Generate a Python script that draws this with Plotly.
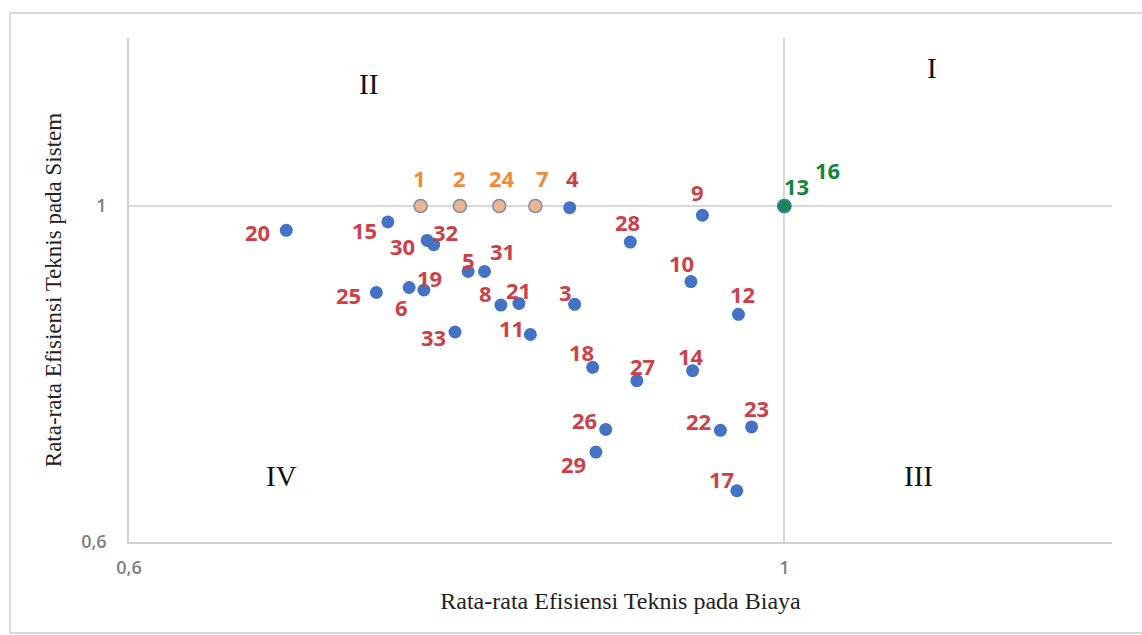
import plotly.graph_objects as go

# DMU efficiency scores: x = average technical efficiency on cost,
# y = average technical efficiency on the system
dmu_ids = ["1", "2", "24", "7", "4", "9", "13", "16", "15", "30", "32", "28",
           "5", "31", "10", "19", "6", "8", "21", "3", "12", "33", "11", "25",
           "20", "18", "27", "14", "26", "22", "23", "29", "17"]
eff_cost = [0.778, 0.802, 0.826, 0.848, 0.869, 0.950, 1.000, 1.000, 0.758,
            0.782, 0.786, 0.906, 0.807, 0.817, 0.943, 0.780, 0.771, 0.827,
            0.838, 0.872, 0.972, 0.799, 0.845, 0.751, 0.696, 0.883, 0.910,
            0.944, 0.891, 0.961, 0.980, 0.885, 0.971]
eff_system = [1.000, 1.000, 1.000, 1.000, 0.998, 0.989, 1.000, 1.000, 0.981,
              0.959, 0.954, 0.957, 0.922, 0.922, 0.910, 0.900, 0.903, 0.882,
              0.884, 0.883, 0.871, 0.850, 0.847, 0.897, 0.971, 0.808, 0.792,
              0.804, 0.734, 0.733, 0.737, 0.707, 0.661]
# group: "top" = on the frontier line of the system, "full" = efficient on both
dmu_group = ["top", "top", "top", "top", "other", "other", "full", "full",
             "other", "other", "other", "other", "other", "other", "other",
             "other", "other", "other", "other", "other", "other", "other",
             "other", "other", "other", "other", "other", "other", "other",
             "other", "other", "other", "other"]

axis_ticks = [0.6, 1.0]
axis_tick_text = ["0,6", "1"]

# label offsets in pixels (dx, dy; dy positive = up)
label_offset = {
    "1": (-1, 28), "2": (0, 28), "24": (3, 28), "7": (7, 28), "4": (3, 30),
    "9": (-5, 23), "13": (12, 20), "16": (43, 36), "15": (-23, -8),
    "30": (-25, -6), "32": (12, 13), "28": (-3, 20), "5": (0, 12),
    "31": (18, 21), "10": (-9, 19), "19": (6, 12), "6": (-8, -20),
    "8": (-15, 12), "21": (0, 13), "3": (-9, 12), "12": (4, 20),
    "33": (-22, -5), "11": (-19, 7), "25": (-28, -2), "20": (-29, -2),
    "18": (-11, 15), "27": (6, 15), "14": (-2, 15), "26": (-21, 9),
    "22": (-22, 9), "23": (5, 19), "29": (-22, -12), "17": (-15, 12),
}

styles = {
    "other": dict(fill="#4472C4", line="#4472C4", text="#CC4149"),
    "top": dict(fill="#EDB58E", line="#7E8DAA", text="#EE8A3A"),
    "full": dict(fill="#15884A", line="#3F7CB8", text="#13853F"),
}

fig = go.Figure()

for grp in ["other", "top", "full"]:
    idx = [i for i, g in enumerate(dmu_group) if g == grp]
    st = styles[grp]
    fig.add_trace(go.Scatter(
        x=[eff_cost[i] for i in idx],
        y=[eff_system[i] for i in idx],
        mode="markers",
        marker=dict(size=13, color=st["fill"],
                    line=dict(color=st["line"], width=1.5 if grp != "other" else 0)),
        hoverinfo="text",
        text=[dmu_ids[i] for i in idx],
        showlegend=False,
    ))

annotations = []
for name, xv, yv, grp in zip(dmu_ids, eff_cost, eff_system, dmu_group):
    dx, dy = label_offset[name]
    annotations.append(dict(
        x=xv, y=yv, xref="x", yref="y", text=name, showarrow=False,
        xshift=dx, yshift=dy,
        font=dict(family="Open Sans", size=22, color=styles[grp]["text"], weight=700),
    ))

# quadrant numerals
quadrants = [("I", 1.09, 1.164), ("II", 0.746, 1.145),
             ("III", 1.082, 0.679), ("IV", 0.693, 0.679)]
for txt, qx, qy in quadrants:
    annotations.append(dict(
        x=qx, y=qy, xref="x", yref="y", text=txt, showarrow=False,
        font=dict(family="Liberation Serif", size=29, color="#111111"),
    ))

axis_common = dict(
    range=[0.6, 1.2],
    tickvals=axis_ticks,
    ticktext=axis_tick_text,
    showgrid=True,
    gridcolor="#D9D9D9",
    gridwidth=1.5,
    zeroline=False,
    showline=True,
    linecolor="#D0D0D0",
    linewidth=1.5,
    ticks="",
    tickfont=dict(family="Open Sans", size=18, color="#808080", weight=600),
    fixedrange=True,
)

fig.update_layout(
    width=1142,
    height=635,
    margin=dict(l=129, r=30, t=38, b=93),
    paper_bgcolor="white",
    plot_bgcolor="white",
    xaxis=dict(
        axis_common,
        ticklabelstandoff=9,
        title=dict(text="Rata-rata Efisiensi Teknis pada Biaya",
                   font=dict(family="Liberation Serif", size=24, color="#222222"),
                   standoff=14),
    ),
    yaxis=dict(
        axis_common,
        ticklabelstandoff=17,
        title=dict(text="Rata-rata Efisiensi Teknis pada Sistem",
                   font=dict(family="Liberation Serif", size=23, color="#222222"),
                   standoff=13),
    ),
    annotations=annotations,
    shapes=[dict(
        type="rect", xref="paper", yref="paper",
        x0=-0.1211, x1=1.05, y0=-0.1806, y1=1.0496,
        line=dict(color="#DADADA", width=2), layer="below",
    )],
)

fig.write_html("out.html")
